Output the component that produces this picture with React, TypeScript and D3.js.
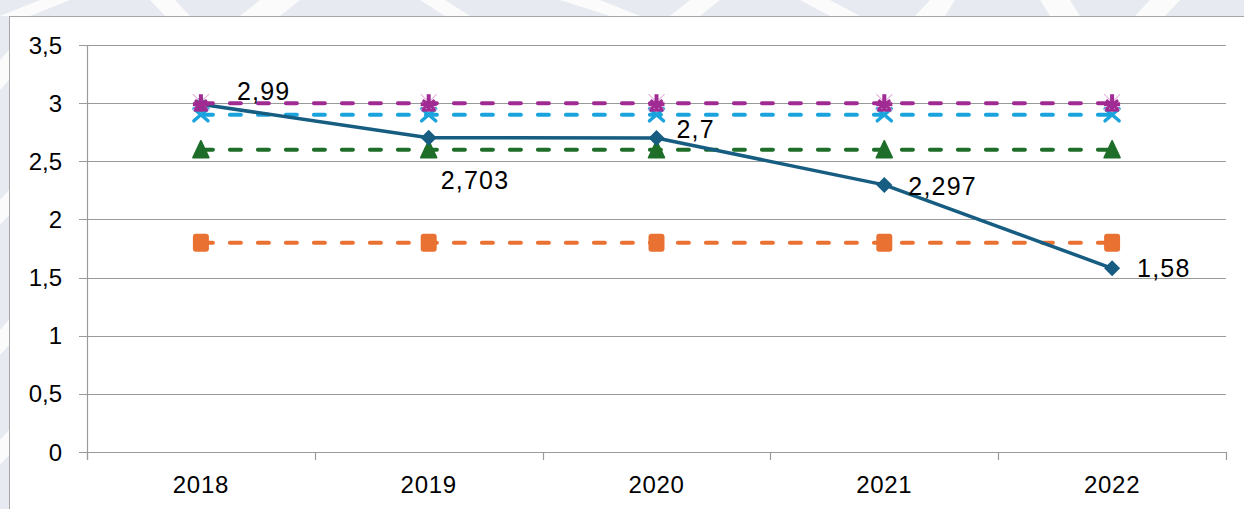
import React from "react";
import * as d3 from "d3";

const years = ["2018", "2019", "2020", "2021", "2022"];
const actual = [2.99, 2.703, 2.7, 2.297, 1.58];
const actualLabels = ["2,99", "2,703", "2,7", "2,297", "1,58"];
const magentaRef = [3, 3, 3, 3, 3];
const blueRef = [2.9, 2.9, 2.9, 2.9, 2.9];
const greenRef = [2.6, 2.6, 2.6, 2.6, 2.6];
const orangeRef = [1.8, 1.8, 1.8, 1.8, 1.8];
const yTicks = [0, 0.5, 1, 1.5, 2, 2.5, 3, 3.5];

const W = 1244, H = 509;
const left = 87, right = 1226, top = 45, bottom = 452;
const font = "'Liberation Sans', Arial, sans-serif";

export default function App() {
  const x = d3.scaleBand<string>().domain(years).range([left, right]);
  const y = d3.scaleLinear().domain([0, 3.5]).range([bottom, top]);
  const cx = (i: number) => (x(years[i]) as number) + x.bandwidth() / 2;
  const line = d3.line<number>().x((_, i) => cx(i)).y((d) => y(d));
  const fmt = (v: number) => String(v).replace(".", ",");

  const dashed = (vals: number[], color: string) => (
    <path d={line(vals) || ""} fill="none" stroke={color} strokeWidth={4} strokeDasharray="11 17" strokeDashoffset={-1} strokeLinecap="round" />
  );

  const labelOffsets = [
    { dx: 36, dy: -4 },
    { dx: 12, dy: 51 },
    { dx: 20, dy: 0 },
    { dx: 24, dy: 10 },
    { dx: 25, dy: 8.5 },
  ];

  const ticksX = [...years.map((d) => x(d) as number), right];

  return (
    <svg width={W} height={H} style={{ display: "block", position: "absolute", left: 0, top: 0 }}>
      <rect width={W} height={H} fill="#ffffff" />
      {/* watermark background */}
      <g fill="#e7eaf0">
        <rect x={0} y={0} width={W} height={16} />
        <rect x={0} y={0} width={9} height={H} />
      </g>
      <g fill="#ffffff" opacity={0.85}>
        <path d="M40 0 L70 0 L30 16 L0 16 Z" />
        <path d="M150 0 L175 0 L190 16 L165 16 Z" />
        <path d="M260 0 L300 0 L280 16 L240 16 Z" />
        <path d="M420 0 L445 0 L470 16 L445 16 Z" />
        <path d="M560 0 L600 0 L640 16 L610 16 Z" />
        <path d="M690 0 L720 0 L700 16 L670 16 Z" />
        <path d="M800 0 L830 0 L860 16 L830 16 Z" />
        <path d="M930 0 L955 0 L945 16 L915 16 Z" />
        <path d="M1040 0 L1070 0 L1080 16 L1050 16 Z" />
        <path d="M1150 0 L1180 0 L1165 16 L1135 16 Z" />
        <path d="M0 60 L9 50 L9 80 L0 90 Z" />
        <path d="M0 200 L9 190 L9 215 L0 225 Z" />
        <path d="M0 330 L9 320 L9 345 L0 355 Z" />
        <path d="M0 440 L9 430 L9 455 L0 465 Z" />
      </g>
      {/* chart frame */}
      <rect x={9.5} y={16.5} width={W + 10} height={H + 10} fill="#ffffff" stroke="#a6a6a6" strokeWidth={1} />

      {/* gridlines */}
      {yTicks.map((t) => (
        <line key={t} x1={left - 8} x2={right} y1={Math.round(y(t)) + 0.5} y2={Math.round(y(t)) + 0.5} stroke="#9a9a9a" strokeWidth={1.2} />
      ))}
      {/* y axis */}
      <line x1={left + 0.5} x2={left + 0.5} y1={top} y2={bottom + 8} stroke="#9a9a9a" strokeWidth={1.2} />
      {ticksX.map((t, i) => (
        <line key={i} x1={Math.round(t) + 0.5} x2={Math.round(t) + 0.5} y1={bottom} y2={bottom + 8} stroke="#9a9a9a" strokeWidth={1.2} />
      ))}
      {yTicks.map((t) => (
        <text key={t} x={62} y={y(t) + 8.5} textAnchor="end" fontFamily={font} fontSize={24} fill="#000">
          {fmt(t)}
        </text>
      ))}
      {years.map((yr, i) => (
        <text key={yr} x={cx(i)} y={493} textAnchor="middle" fontFamily={font} fontSize={24} letterSpacing={0.7} fill="#000">
          {yr}
        </text>
      ))}

      {/* reference lines */}
      {dashed(orangeRef, "#e97132")}
      {orangeRef.map((v, i) => (
        <rect key={i} x={cx(i) - 8} y={y(v) - 9} width={16} height={18} rx={3} fill="#e97132" />
      ))}
      {dashed(greenRef, "#1e6e29")}
      {greenRef.map((v, i) => (
        <path key={i} d={`M${cx(i) - 8},${y(v) + 8} L${cx(i)},${y(v) - 9} L${cx(i) + 8},${y(v) + 8} Z`} fill="#1e6e29" stroke="#1e6e29" strokeWidth={1.5} strokeLinejoin="round" />
      ))}
      {dashed(blueRef, "#1aa3dd")}
      {blueRef.map((v, i) => (
        <path key={i} d={`M${cx(i) - 7},${y(v) - 6} L${cx(i) + 7},${y(v) + 6} M${cx(i) + 7},${y(v) - 6} L${cx(i) - 7},${y(v) + 6}`} stroke="#1aa3dd" strokeWidth={3.5} strokeLinecap="round" fill="none" />
      ))}

      {/* actual line */}
      <path d={line(actual) || ""} fill="none" stroke="#175d82" strokeWidth={3.5} strokeLinejoin="round" />
      {actual.map((v, i) => (
        <path key={i} d={`M${cx(i)},${y(v) - 8} L${cx(i) + 8},${y(v)} L${cx(i)},${y(v) + 8} L${cx(i) - 8},${y(v)} Z`} fill="#175d82" />
      ))}

      {dashed(magentaRef, "#a02b93")}
      {magentaRef.map((v, i) => (
        <g key={i}>
          <path d={`M${cx(i) - 8},${y(v) - 9} L${cx(i) + 8},${y(v) + 7} M${cx(i) + 8},${y(v) - 9} L${cx(i) - 8},${y(v) + 7}`} stroke="#e3b5dd" strokeWidth={1.2} />
          <path d={`M${cx(i)},${y(v) - 9} L${cx(i)},${y(v) + 8} M${cx(i) - 8},${y(v) + 1} L${cx(i) + 8},${y(v) + 1}`} stroke="#a02b93" strokeWidth={4} />
          <path d={`M${cx(i) - 7},${y(v) + 7} L${cx(i) + 7},${y(v) + 7}`} stroke="#a02b93" strokeWidth={3} />
          <path d={`M${cx(i) - 6},${y(v) - 3} L${cx(i) + 6},${y(v) + 6} M${cx(i) + 6},${y(v) - 3} L${cx(i) - 6},${y(v) + 6}`} stroke="#a02b93" strokeWidth={3} />
        </g>
      ))}

      {/* data labels */}
      {actual.map((v, i) => (
        <text key={i} x={cx(i) + labelOffsets[i].dx} y={y(v) + labelOffsets[i].dy} fontFamily={font} fontSize={25} letterSpacing={1.2} fill="#000">
          {actualLabels[i]}
        </text>
      ))}
    </svg>
  );
}
